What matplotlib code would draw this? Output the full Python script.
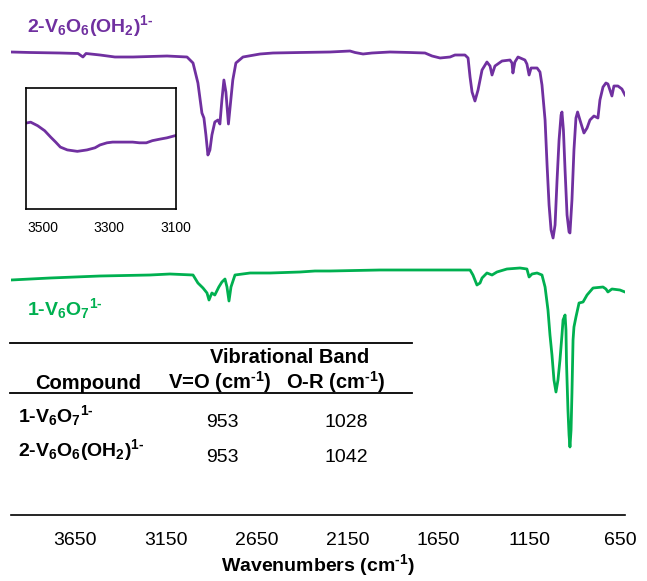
import matplotlib
matplotlib.use("Agg")
import matplotlib.pyplot as plt
from matplotlib.lines import Line2D
from matplotlib.transforms import ScaledTranslation

plt.rcParams['font.family'] = ['Liberation Sans', 'DejaVu Sans']
plt.rcParams['mathtext.default'] = 'regular'
# every math string below is bold, so \text{} uses the bold face
plt.rcParams['mathtext.fontset'] = 'custom'
plt.rcParams['mathtext.rm'] = 'Liberation Sans:bold'

PURPLE = '#7030A0'
GREEN = '#00B050'

# ---- IR spectra (wavenumber in cm-1, offset transmittance) ----
# 2-V6O6(OH2)1-
wn_2 = [4030, 3925, 3760, 3661, 3634, 3617, 3540, 3458, 3358, 3265, 3171, 3061,
        3028, 3001, 2979, 2968, 2957, 2946, 2935, 2924, 2908, 2891, 2880, 2869,
        2858, 2847, 2833, 2820, 2809, 2792, 2753, 2659, 2588, 2439, 2274, 2164,
        2136, 2092, 2043, 1944, 1834, 1751, 1712, 1668, 1613, 1586, 1531, 1514,
        1503, 1492, 1476, 1459, 1437, 1410, 1393, 1382, 1366, 1327, 1283, 1272,
        1267, 1256, 1239, 1201, 1190, 1178, 1167, 1134, 1118, 1107, 1090, 1079,
        1068, 1057, 1046, 1035, 1024, 1013, 1002, 997, 989, 980, 969, 958, 953,
        942, 931, 920, 911, 898, 876, 859, 843, 821, 799, 788, 771, 755, 744,
        733, 722, 711, 689, 667, 650]
t_2 = [92.6, 92.5, 92.4, 92.3, 91.6, 92.3, 92.0, 91.6, 91.6, 91.7, 91.8, 91.6,
       90.4, 86.4, 80.4, 79.4, 76.0, 72.0, 73.0, 76.0, 78.6, 79.0, 78.2, 83.0,
       87.0, 84.6, 78.2, 83.0, 87.0, 90.4, 91.6, 92.2, 92.4, 92.5, 92.6, 92.8,
       92.5, 92.2, 92.4, 92.6, 92.5, 92.4, 91.8, 91.4, 91.6, 92.0, 92.0, 91.4,
       87.6, 84.6, 82.8, 85.0, 89.0, 90.6, 89.8, 88.0, 89.8, 90.8, 91.0, 90.4,
       88.4, 90.6, 91.6, 91.0, 90.2, 88.0, 89.4, 89.4, 88.6, 86.0, 79.0, 70.0,
       62.0, 57.0, 55.4, 58.0, 67.0, 75.0, 80.0, 80.6, 77.0, 69.0, 60.0, 56.6, 56.4,
       63.0, 73.0, 79.4, 80.6, 79.0, 76.4, 77.4, 79.0, 79.8, 79.4, 83.0, 85.6, 86.4, 86.2,
       85.0, 83.8, 85.8, 85.8, 85.2, 84.0]

# 1-V6O7 1-
wn_1 = [4030, 3815, 3540, 3265, 3155, 3028, 3001, 2973, 2951, 2940, 2929, 2924,
        2908, 2886, 2869, 2852, 2841, 2830, 2819, 2797, 2714, 2604, 2439, 2357,
        2274, 1999, 1889, 1668, 1503, 1487, 1465, 1448, 1437, 1410, 1382, 1355,
        1300, 1228, 1190, 1178, 1162, 1134, 1107, 1090, 1074, 1063, 1052, 1041,
        1030, 1019, 1008, 997, 991, 980, 975, 972, 964, 958, 953, 947, 942, 936,
        931, 920, 903, 881, 859, 826, 771, 755, 744, 722, 678, 650]
t_1 = [47.0, 47.4, 47.8, 48.0, 48.2, 48.0, 46.4, 45.4, 44.4, 43.0, 44.0, 44.4,
       44.0, 45.6, 46.6, 47.2, 45.6, 42.8, 45.6, 48.0, 48.4, 48.4, 48.6, 48.8,
       48.8, 49.0, 49.0, 49.0, 49.0, 48.0, 46.0, 46.4, 47.4, 48.4, 48.0, 48.6,
       49.2, 49.4, 49.2, 47.6, 48.2, 48.4, 48.0, 45.6, 41.0, 36.0, 32.0, 27.0,
       24.6, 27.0, 31.0, 36.0, 39.0, 40.0, 37.0, 30.4, 21.0, 16.0, 13.6, 17.0, 24.4, 35.0,
       37.6, 39.6, 42.4, 42.6, 44.0, 45.4, 45.6, 45.2, 44.6, 45.2, 45.0, 44.6]

# O-H stretch region of 2-V6O6(OH2)1-, expanded
wn_oh = [3547, 3536, 3515, 3494, 3476, 3461, 3447, 3426, 3396, 3367, 3343, 3328,
         3307, 3290, 3260, 3230, 3210, 3189, 3171, 3150, 3127, 3103]
t_oh = [92.11, 92.12, 92.07, 92.00, 91.91, 91.84, 91.77, 91.73, 91.71, 91.73,
        91.76, 91.80, 91.83, 91.84, 91.84, 91.84, 91.83, 91.83, 91.86, 91.88,
        91.90, 91.93]

xticks = [3650, 3150, 2650, 2150, 1650, 1150, 650]
oh_ticks = [3500, 3300, 3100]

label_1 = r'1-V$_6$O$_7$$^{1\text{-}}$'
label_2 = r'2-V$_6$O$_6$(OH$_2$)$^{1\text{-}}$'
unit = r'(cm$^{\text{-}1}$)'
compounds = [label_1, label_2]
band_vo = [953, 953]
band_or = [1028, 1042]

W, H = 647, 581
fig = plt.figure(figsize=(W / 100, H / 100), dpi=100)


def fx(px):
    return px / W


def fy(py):
    return 1 - py / H


# main spectrum axes
ax = fig.add_axes([fx(11), fy(515), (625 - 11) / W, 515 / H])
ax.plot(wn_2, t_2, color=PURPLE, lw=2.0, solid_joinstyle='round')
ax.plot(wn_1, t_1, color=GREEN, lw=2.0, solid_joinstyle='round')
ax.set_xlim(4030, 650)
ax.set_ylim(0, 103)
for s in ['top', 'left', 'right']:
    ax.spines[s].set_visible(False)
ax.spines['bottom'].set_linewidth(1.2)
ax.set_yticks([])
ax.set_xticks(xticks)
ax.set_xticklabels([str(v) for v in xticks])
ax.tick_params(axis='x', length=0, pad=12, labelsize=14)
shift = ScaledTranslation(-5 / 100, 0, fig.dpi_scale_trans)
for lab in ax.get_xticklabels():
    lab.set_transform(lab.get_transform() + shift)
ax.set_xlabel('Wavenumbers ' + unit, fontsize=14, fontweight='bold')
ax.xaxis.set_label_coords(0.5, -(565 - 515) / 515)
ax.xaxis.label.set_va('center')

fig.text(fx(27), fy(32), label_2, color=PURPLE,
         fontsize=14, fontweight='bold', va='baseline')
fig.text(fx(27), fy(315), label_1, color=GREEN,
         fontsize=14, fontweight='bold', va='baseline')

# inset: O-H region
axi = fig.add_axes([fx(26), fy(209), 150 / W, 121 / H])
axi.plot(wn_oh, t_oh, color=PURPLE, lw=2.0)
axi.set_xlim(3550, 3100)
axi.set_ylim(90.9, 92.6)
axi.set_yticks([])
axi.set_xticks(oh_ticks)
axi.tick_params(axis='x', length=0, pad=9, labelsize=10)
for s in axi.spines.values():
    s.set_linewidth(1.2)

# band table
for py in (343, 393):
    fig.add_artist(Line2D([fx(10), fx(412)], [fy(py), fy(py)],
                          color='black', lw=1.3))
fig.text(fx(290), fy(363), 'Vibrational Band', fontsize=14.5,
         fontweight='bold', ha='center', va='baseline')
fig.text(fx(88), fy(389), 'Compound', fontsize=14.5, fontweight='bold',
         ha='center', va='baseline')
fig.text(fx(220), fy(389), 'V=O ' + unit, fontsize=14.5, fontweight='bold',
         ha='center', va='baseline')
fig.text(fx(336), fy(389), 'O-R ' + unit, fontsize=14.5, fontweight='bold',
         ha='center', va='baseline')
for i, name in enumerate(compounds):
    fig.text(fx(18), fy(422 + 34 * i), name, fontsize=14, fontweight='bold',
             va='baseline')
    fig.text(fx(222), fy(427 + 35 * i), str(band_vo[i]), fontsize=14,
             ha='center', va='baseline')
    fig.text(fx(346), fy(427 + 35 * i), str(band_or[i]), fontsize=14,
             ha='center', va='baseline')

fig.savefig('out.png', dpi=100)
